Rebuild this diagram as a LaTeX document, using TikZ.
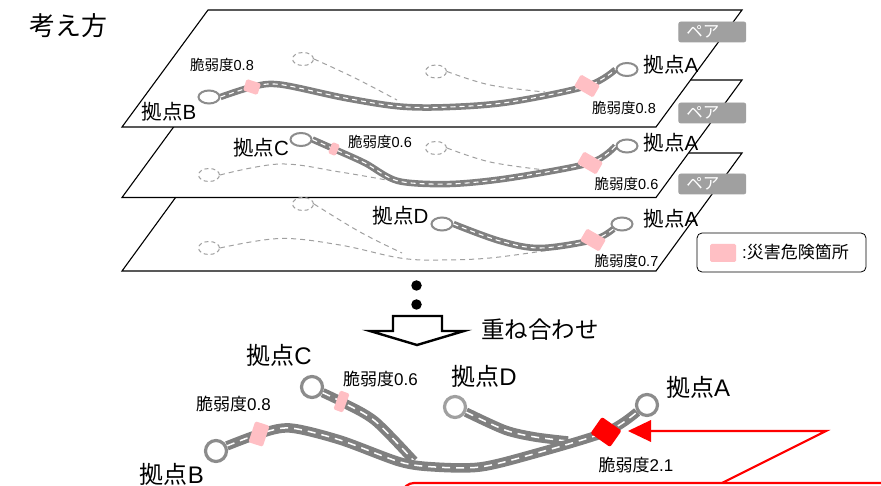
\documentclass[tikz,border=0pt]{standalone}
\usepackage{fontspec}
\usetikzlibrary{shapes.geometric}
\setmainfont{Liberation Sans}
\newfontfamily\cjk{Noto Sans CJK JP}
\definecolor{roadgray}{HTML}{808080}
\definecolor{sitegray}{HTML}{8C8C8C}
\definecolor{ghost}{HTML}{A0A0A0}
\definecolor{pinkc}{HTML}{FFBFC4}
\definecolor{pairgray}{HTML}{A0A0A0}
\newcommand{\jl}[1]{{\cjk #1}}
\tikzset{
  plane/.style={draw=black,fill=white,line width=1.1pt},
  road/.style={preaction={draw=roadgray,line width=6.5pt,solid},draw=white,line width=1.1pt,dash pattern=on 5pt off 4pt},
  bigroad/.style={preaction={draw=roadgray,line width=9.5pt,solid},draw=white,line width=1.5pt,dash pattern=on 8pt off 6pt},
  ghostline/.style={draw=ghost,line width=1pt,dash pattern=on 5pt off 4pt},
  site/.style={ellipse,draw=sitegray,fill=white,line width=2pt,minimum width=21pt,minimum height=13pt,inner sep=0pt},
  ghostsite/.style={ellipse,draw=ghost,line width=1pt,dash pattern=on 4pt off 3pt,minimum width=21pt,minimum height=13pt,inner sep=0pt},
  bigsite/.style={circle,draw=sitegray,fill=white,line width=3.2pt,minimum size=21pt,inner sep=0pt},
  hazard/.style={fill=pinkc,rounded corners=1.5pt,inner sep=0pt},
  pairbox/.style={draw=ghost,fill=pairgray,rounded corners=2pt,line width=0.8pt,minimum width=67pt,minimum height=20pt,inner sep=0pt,text=white,font=\cjk\fontsize{16.5}{16.5}\selectfont,text width=52pt,align=left},
  sitelabel/.style={inner sep=0pt,font=\fontsize{20.5}{20.5}\selectfont},
  biglabel/.style={inner sep=0pt,font=\fontsize{24}{24}\selectfont},
  vuln/.style={inner sep=0pt,font=\fontsize{14.5}{15}\selectfont},
  bigvuln/.style={inner sep=0pt,font=\fontsize{17}{17}\selectfont},
  redline/.style={draw=red,line width=2.2pt},
}
\begin{document}
\begin{tikzpicture}[x=1pt,y=-1pt]
\useasboundingbox (0,0) rectangle (881,486);
\clip (0,0) rectangle (881,486);
\node[inner sep=0pt,font=\cjk\fontsize{26}{26}\selectfont] (title) at (68.5,26) {考え方};
% planes
\path[plane] (208,153) -- (742,153) -- (656,271) -- (122,271) -- cycle;
\path[plane] (208,80) -- (742,80) -- (656,197.5) -- (122,197.5) -- cycle;
\path[plane] (208,10) -- (742,10) -- (656,127) -- (122,127) -- cycle;
% plane 1
\node[ghostsite] (g1a) at (303,59) {};
\node[ghostsite] (g1b) at (436,71.5) {};
\draw[ghostline] plot[smooth,tension=0.6] coordinates {(g1a.east) (355,78) (397,100)};
\draw[ghostline] plot[smooth,tension=0.6] coordinates {(g1b.east) (490,85) (545,92)};
\node[site] (b1) at (209,97) {};
\node[site] (a1) at (627,69.5) {};
\draw[road] plot[smooth,tension=0.55] coordinates {(b1.east) (252,87) (280,84.5) (345,98) (400,106.5) (450,107) (510,102) (587,86) (a1.west)};
\node[hazard,minimum width=15pt,minimum height=12pt,rotate=-18] (h1b) at (252,87) {};
\node[hazard,minimum width=22pt,minimum height=14pt,rotate=-30] (h1a) at (587,86) {};
% plane 2
\node[ghostsite] (g2b) at (209,175) {};
\node[ghostsite] (g2a) at (436,148) {};
\draw[ghostline] plot[smooth,tension=0.6] coordinates {(g2b.east) (280,164) (340,172) (392,181)};
\draw[ghostline] plot[smooth,tension=0.6] coordinates {(g2a.east) (490,162) (545,170)};
\node[site] (c2) at (301,139.5) {};
\node[site] (a2) at (627,146) {};
\draw[road] plot[smooth,tension=0.5] coordinates {(c2.east) (334,149) (365,163) (398,181) (450,184) (510,178) (590,163) (a2.west)};
\node[hazard,minimum width=8pt,minimum height=12pt,rotate=-22] (h2c) at (334,149) {};
\node[hazard,minimum width=22pt,minimum height=14pt,rotate=-30] (h2a) at (590,163) {};
% plane 3
\node[ghostsite] (g3a) at (303,204) {};
\node[ghostsite] (g3b) at (209,248) {};
\draw[ghostline] plot[smooth,tension=0.6] coordinates {(g3a.east) (360,232) (402,253)};
\draw[ghostline] plot[smooth,tension=0.6] coordinates {(g3b.east) (280,238.5) (340,245) (400,258) (440,260) (490,258) (550,250)};
\node[site] (d3) at (442,224) {};
\node[site] (a3) at (622,224) {};
\draw[road] plot[smooth,tension=0.55] coordinates {(d3.east) (500,241) (540,248) (593,240) (a3.-150)};
\node[hazard,minimum width=22pt,minimum height=14pt,rotate=-30] (h3a) at (593,240) {};
% pair boxes
\node[pairbox] (p1) at (712.3,32) {ペア};
\node[pairbox] (p2) at (712.3,113) {ペア};
\node[pairbox] (p3) at (712.3,184) {ペア};
% plane labels
\node[sitelabel] (lb1) at (169,111.5) {\jl{拠点}B};
\node[sitelabel] (la1) at (671,64.5) {\jl{拠点}A};
\node[sitelabel] (lc2) at (261,147.5) {\jl{拠点}C};
\node[sitelabel] (la2) at (671,142.5) {\jl{拠点}A};
\node[sitelabel] (ld3) at (400.5,215.5) {\jl{拠点}D};
\node[sitelabel] (la3) at (671,219) {\jl{拠点}A};
\node[vuln] (v1) at (222,64.5) {\jl{脆弱度}0.8};
\node[vuln] (v2) at (624,108) {\jl{脆弱度}0.8};
\node[vuln] (v3) at (380,142) {\jl{脆弱度}0.6};
\node[vuln] (v4) at (626.5,183.5) {\jl{脆弱度}0.6};
\node[vuln] (v5) at (626.5,260.5) {\jl{脆弱度}0.7};
% legend
\node[draw=black,fill=white,rounded corners=5pt,line width=0.8pt,minimum width=169pt,minimum height=39pt,inner sep=0pt] (legend) at (781.5,252.5) {};
\node[hazard,minimum width=26pt,minimum height=18pt] (legkey) at (723,253) {};
\node[inner sep=0pt,anchor=west,font=\fontsize{17}{17}\selectfont] (legtext) at (742,252.5) {:\jl{災害危険箇所}};
% dots and arrow
\node[circle,fill=black,minimum size=10.5pt,inner sep=0pt] (dot1) at (416.5,285.5) {};
\node[circle,fill=black,minimum size=10.5pt,inner sep=0pt] (dot2) at (416.5,304.5) {};
\path[draw=black,fill=white,line width=2.4pt,miter limit=10] (393,316) -- (442,316) -- (442,331) -- (464,331) -- (417,345) -- (370,331) -- (393,331) -- cycle;
\node[inner sep=0pt,font=\cjk\fontsize{23.5}{23.5}\selectfont] (merge) at (540,330) {重ね合わせ};
% merged network
\node[bigsite] (mb) at (216,451) {};
\node[bigsite] (mc) at (312,387) {};
\node[bigsite,draw=ghost] (md) at (455,407) {};
\node[bigsite] (ma) at (647,405) {};
\draw[bigroad] plot[smooth,tension=0.5] coordinates {(mc.-28) (342,402) (375,421) (414,461)};
\draw[bigroad] plot[smooth,tension=0.5] coordinates {(md.-25) (505,430) (535,437) (568,441)};
\draw[bigroad] plot[smooth,tension=0.5] coordinates {(mb.25) (259,434) (290,428) (340,440) (400,462) (435,467) (480,467) (530,455) (606,432) (ma.-145)};
\node[hazard,minimum width=15pt,minimum height=22pt,rotate=-18] (mh1) at (259,434) {};
\node[hazard,minimum width=10pt,minimum height=20pt,rotate=-20] (mh2) at (341.5,401.5) {};
\node[fill=red,rounded corners=2pt,inner sep=0pt,minimum width=24pt,minimum height=20pt,rotate=-35] (mh3) at (606,432) {};
\node[biglabel] (lb) at (172,474) {\jl{拠点}B};
\node[biglabel] (lc) at (279,355) {\jl{拠点}C};
\node[biglabel] (ld) at (484,376) {\jl{拠点}D};
\node[biglabel] (la) at (698,387) {\jl{拠点}A};
\node[bigvuln] (mv1) at (233.5,404) {\jl{脆弱度}0.8};
\node[bigvuln] (mv2) at (380.5,379) {\jl{脆弱度}0.6};
\node[bigvuln] (mv3) at (636,464.5) {\jl{脆弱度}2.1};
% red callout
\coordinate (calltip) at (651,431);
\coordinate (callknee) at (826,431);
\coordinate (callfoot) at (722,483);
\draw[redline,line join=miter] (calltip) -- (callknee) -- (callfoot);
\fill[red] (628,431) -- (651,420) -- (651,442) -- cycle;
\draw[redline,rounded corners=10pt] (400,500) -- (404,483) -- (900,483);
\end{tikzpicture}
\end{document}
